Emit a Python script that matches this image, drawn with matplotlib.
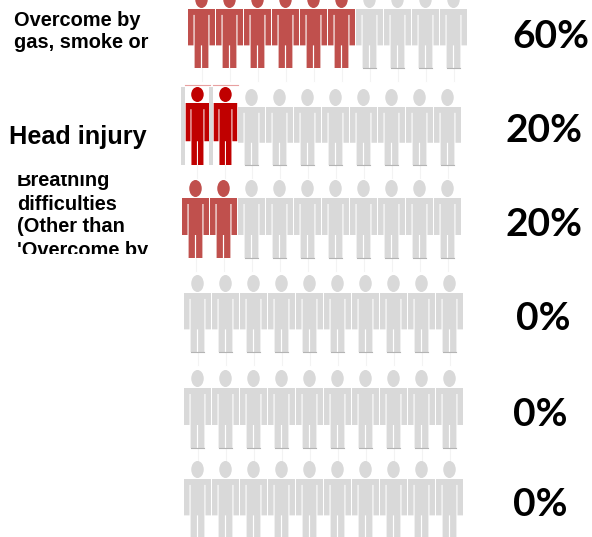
"""
Pictogram of injury types: ten people per row, coloured by share.
"""
import matplotlib
matplotlib.use("Agg")
import matplotlib.pyplot as plt
from matplotlib.patches import Ellipse, PathPatch, Rectangle
from matplotlib.path import Path
from matplotlib.transforms import Affine2D

percent_values = [60, 20, 20, 0, 0, 0]
percent_labels = ["60%", "20%", "20%", "0%", "0%", "0%"]
row_labels = ["Overcome by\ngas, smoke or", "Head injury",
              "Breathing\ndifficulties\n(Other than\n'Overcome by", "", "", ""]

GRAY = "#d9d9d9"
DARK = "#b4b4b4"
RED = "#c0504d"
STRONG = "#c00000"
PITCH = 28

# left edge, shoulder y, feet y for each row (pixels)
row_left = [188, 182, 182, 184, 184, 184]
row_top = [9, 107, 198, 293, 388, 479]
row_feet = [68, 165, 258, 352, 448, 538]
text_x = [551, 544, 544, 543, 540, 540]
text_y = [37, 131, 224, 318, 414, 505]

body = Path([(0, 0), (27, 0), (27, 37), (21.5, 37), (21.5, 6), (20.4, 6), (20.4, 60),
             (14.1, 60), (14.1, 37), (12.9, 37), (12.9, 60), (6.6, 60), (6.6, 6),
             (5.5, 6), (5.5, 37), (0, 37), (0, 0)])


def draw_person(ax, x, top, feet, color, accent=True, sx=1.0, head_h=17):
    h = (feet - top) / 60
    tr = Affine2D().scale(sx, h).translate(x, top) + ax.transData
    ax.add_patch(PathPatch(body, facecolor=color, edgecolor="none", transform=tr, snap=False))
    cx = x + 13.5 * sx
    ax.add_patch(Ellipse((cx, top - 1 - head_h / 2), 12.5, head_h,
                         facecolor=color, edgecolor="none"))
    # faint guide line under the feet, left over from the source image
    ax.plot([cx, cx], [feet, feet + 13], color="#f3f3f3", lw=0.8, zorder=0)
    if accent:
        ax.plot([x + 6.6 * sx, x + 12.9 * sx], [feet, feet], color=DARK, lw=0.8)
        ax.plot([x + 14.1 * sx, x + 20.4 * sx], [feet, feet], color=DARK, lw=0.8)


fig = plt.figure(figsize=(5.92, 5.37), dpi=100)
ax = fig.add_axes([0, 0, 1, 1])
ax.set_xlim(0, 592)
ax.set_ylim(537, 0)
ax.axis("off")

for i, pct in enumerate(percent_values):
    filled = pct // 10
    for j in range(10):
        x = row_left[i] + j * PITCH
        if j >= filled:
            draw_person(ax, x, row_top[i], row_feet[i], GRAY)
        elif i == 1:
            # this row's red figures sit on a white box over a gray figure
            ax.add_patch(Rectangle((x - 1, 87), 4, 78, facecolor=GRAY, edgecolor="none"))
            ax.plot([x + 3, x + 28], [85, 85], color="#e8a0a0", lw=0.8)
            draw_person(ax, x + 3.7, 103, 165, STRONG, accent=False, sx=0.87, head_h=15)
        else:
            draw_person(ax, x, row_top[i], row_feet[i], RED, accent=False)
    ax.text(text_x[i], text_y[i], percent_labels[i], ha="center", va="center",
            family="Lato", fontweight="bold", fontsize=28, color="black")

ax.text(14, 21, row_labels[0].split("\n")[0], ha="left", va="center",
        family="Liberation Sans", fontweight="bold", fontsize=14.4)
ax.text(14, 43, row_labels[0].split("\n")[1], ha="left", va="center",
        family="Liberation Sans", fontweight="bold", fontsize=14.4)
ax.text(9, 137, row_labels[1], ha="left", va="center",
        family="Liberation Sans", fontweight="bold", fontsize=18.2)

# the long label is cut off by its box, top and bottom
clip = Rectangle((0, 175), 180, 79, transform=ax.transData)
for k, line in enumerate(row_labels[2].split("\n")):
    t = ax.text(17, 181 + k * 23, line, ha="left", va="center", clip_on=True,
                family="Liberation Sans", fontweight="bold", fontsize=14.4)
    t.set_clip_path(clip)

fig.savefig("out.png", dpi=100)
